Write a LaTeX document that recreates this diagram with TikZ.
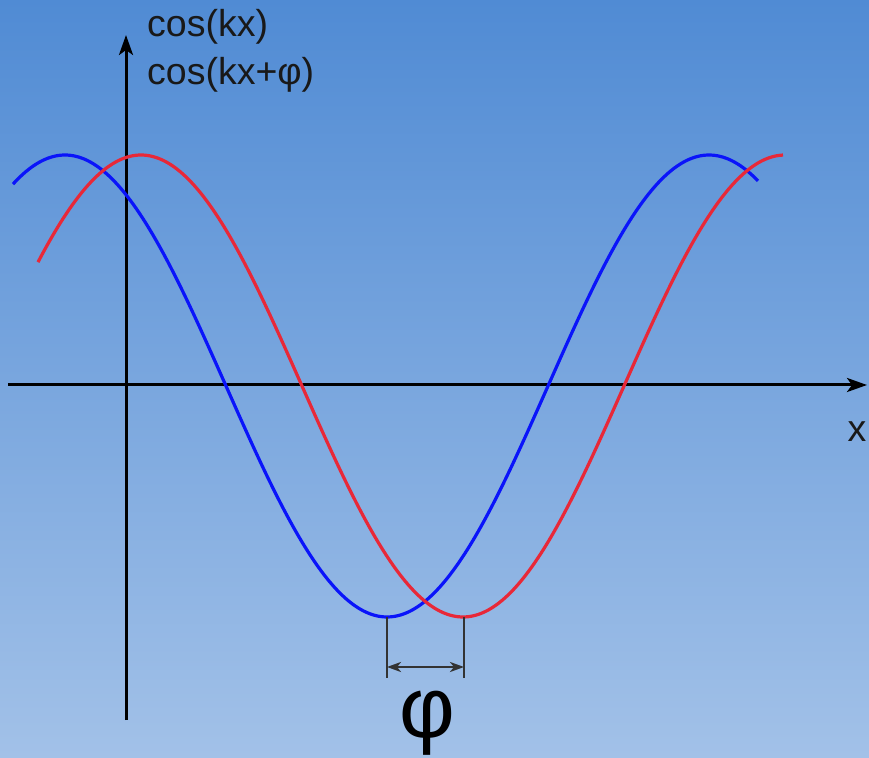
\documentclass[tikz,border=0pt]{standalone}
\usepackage{fontspec}
\setmainfont{Liberation Sans}
\usetikzlibrary{arrows.meta}

\definecolor{bgtop}{RGB}{80,139,212}
\definecolor{bgbottom}{RGB}{162,193,232}
\definecolor{wavered}{RGB}{232,40,56}
\definecolor{waveblue}{RGB}{10,20,250}

\begin{document}
\begin{tikzpicture}[
    x=1pt, y=1pt,
    axis/.style={line width=3pt, -{Stealth[length=20pt,width=14pt,inset=5pt]}},
    wave/.style={line width=3.2pt, smooth, samples=150},
    marker/.style={line width=2.4pt, draw=black!80},
    label/.style={font=\fontsize{37.5}{40}\selectfont, text=black!90, inner sep=0pt}
  ]
  % background
  \useasboundingbox (0,0) rectangle (869,757);
  \shade[top color=bgtop, bottom color=bgbottom] (0,0) rectangle (869,757);

  % axes
  \coordinate (xstart) at (8,372);
  \coordinate (xend) at (867,372);
  \coordinate (ybottom) at (126,37);
  \coordinate (ytop) at (126,722);
  \draw[axis] (xstart) -- (xend);
  \draw[axis] (ybottom) -- (ytop);

  % waves
  \draw[wave, waveblue] plot[domain=13:758] (\x, {371+231*cos((\x-65)/644*360)});
  \draw[wave, wavered] plot[domain=38:783] (\x, {371+231*cos((\x-141)/644*360)});

  % phase marker
  \coordinate (bmin) at (387,140);
  \coordinate (rmin) at (464,140);
  \coordinate (bfoot) at (387,79);
  \coordinate (rfoot) at (464,79);
  \coordinate (barrow) at (387,90);
  \coordinate (rarrow) at (464,90);
  \draw[marker] (bmin) -- (bfoot);
  \draw[marker] (rmin) -- (rfoot);
  \draw[marker, {Stealth[length=14pt,width=10pt,inset=4pt]}-{Stealth[length=14pt,width=10pt,inset=4pt]}] (barrow) -- (rarrow);

  % labels
  \node[label, anchor=west] (ylabel1) at (147,730) {cos(kx)};
  \node[label, anchor=west] (ylabel2) at (147,682) {cos(kx+φ)};
  \node[label] (xlabel) at (857,325) {x};
  \node[font=\fontsize{86}{86}\selectfont, inner sep=0pt, anchor=base] (phi) at (427,20) {φ};
\end{tikzpicture}
\end{document}
